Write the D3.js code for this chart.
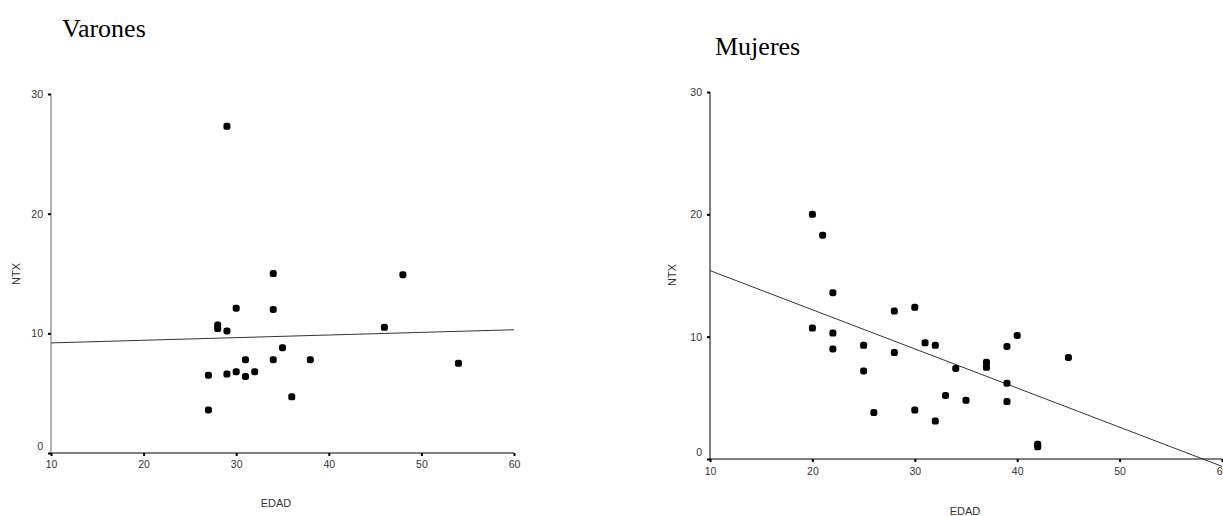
<!DOCTYPE html>
<html>
<head>
<meta charset="utf-8">
<script src="https://cdn.jsdelivr.net/npm/d3@7"></script>
<style>
  html, body { margin: 0; padding: 0; background: #fff; }
  svg { display: block; }
  .tick text { font-family: "Liberation Sans", Arial, sans-serif; font-size: 10.5px; fill: #333; }
  .lab { font-family: "Liberation Sans", Arial, sans-serif; font-size: 11px; fill: #333; }
  .ttl { font-family: "Liberation Serif", "Times New Roman", serif; font-size: 26px; fill: #000; }
</style>
</head>
<body>
<svg id="chart" width="1223" height="516"></svg>
<script>
// NTX vs EDAD, varones / mujeres
var xTicks = [10, 20, 30, 40, 50, 60];
var yTicks = [0, 10, 20, 30];

var menAge = [29, 34, 27, 27, 28, 28, 29, 30, 34, 29, 30, 31, 31, 32, 34, 35, 36, 38, 46, 48, 54];
var menNtx = [27.3, 15.0, 6.5, 3.6, 10.7, 10.4, 10.2, 12.1, 12.0, 6.6, 6.8, 7.8, 6.4, 6.8, 7.8, 8.8, 4.7, 7.8, 10.5, 14.9, 7.5];
var menFitX = [10, 60];
var menFitY = [9.2, 10.3];

var womenAge = [20, 21, 22, 20, 22, 22, 25, 25, 26, 28, 28, 30, 30, 31, 32, 32, 33, 34, 35, 37, 37, 39, 39, 39, 40, 42, 42, 45];
var womenNtx = [20.0, 18.3, 13.6, 10.7, 10.3, 9.0, 9.3, 7.2, 3.8, 12.1, 8.7, 12.4, 4.0, 9.5, 9.3, 3.1, 5.2, 7.4, 4.8, 7.9, 7.5, 9.2, 6.2, 4.7, 10.1, 1.2, 1.0, 8.3];
var womenFitX = [10, 60];
var womenFitY = [15.4, -0.6];

var svg = d3.select('#chart');

function panel(cfg) {
  var x = d3.scaleLinear().domain([10, 60]).range(cfg.xr);
  var y = d3.scaleLinear().domain([0, 30]).range(cfg.yr);
  var g = svg.append('g');

  // axes
  var ax = g.append('g').attr('transform', 'translate(0,' + cfg.yr[0] + ')')
    .call(d3.axisBottom(x).tickValues(xTicks).tickSize(3).tickPadding(cfg.xpad).tickFormat(d3.format('d')));
  var ay = g.append('g').attr('transform', 'translate(' + cfg.xr[0] + ',0)')
    .call(d3.axisLeft(y).tickValues(yTicks).tickSize(3).tickPadding(5).tickFormat(d3.format('d')));
  ax.select('.domain').attr('stroke', '#000').attr('d', 'M' + cfg.xr[0] + ',0H' + cfg.xr[1]);
  ay.select('.domain').attr('stroke', cfg.ycol).attr('d', 'M0,' + cfg.yr[0] + 'V' + cfg.yr[1]);
  g.selectAll('.tick line').attr('stroke', '#000').attr('stroke-width', 2);
  ay.selectAll('.tick text').filter(function (d) { return d === 0; }).attr('dy', '-0.35em');

  // fit line
  var line = d3.line().x(function (d) { return x(d[0]); }).y(function (d) { return y(d[1]); });
  g.append('path').datum(cfg.fx.map(function (v, i) { return [v, cfg.fy[i]]; }))
    .attr('d', line).attr('fill', 'none').attr('stroke', '#333').attr('stroke-width', 1);

  // points
  var pts = cfg.ax.map(function (v, i) { return [v, cfg.ay[i]]; });
  g.append('g').selectAll('rect').data(pts).enter().append('rect')
    .attr('x', function (d) { return x(d[0]) - 3.5; })
    .attr('y', function (d) { return y(d[1]) - 3.5; })
    .attr('width', 7).attr('height', 7).attr('rx', 2.6)
    .attr('fill', '#000');

  // labels
  g.append('text').attr('class', 'lab').attr('text-anchor', 'middle')
    .attr('x', cfg.edad[0]).attr('y', cfg.edad[1]).text('EDAD');
  g.append('text').attr('class', 'lab').attr('text-anchor', 'middle')
    .attr('transform', 'translate(' + cfg.ntx[0] + ',' + cfg.ntx[1] + ') rotate(-90)').text('NTX');
  g.append('text').attr('class', 'ttl').attr('x', cfg.title[0]).attr('y', cfg.title[1]).text(cfg.name);
}

panel({
  name: 'Varones', title: [62, 37],
  xr: [51, 514], yr: [453, 94], xpad: 5, ycol: '#666',
  ax: menAge, ay: menNtx, fx: menFitX, fy: menFitY,
  edad: [276, 507], ntx: [20, 274]
});
panel({
  name: 'Mujeres', title: [715, 55],
  xr: [710, 1222], yr: [459, 92], xpad: 6, ycol: '#000',
  ax: womenAge, ay: womenNtx, fx: womenFitX, fy: womenFitY,
  edad: [965, 515], ntx: [676, 275]
});
</script>
</body>
</html>
